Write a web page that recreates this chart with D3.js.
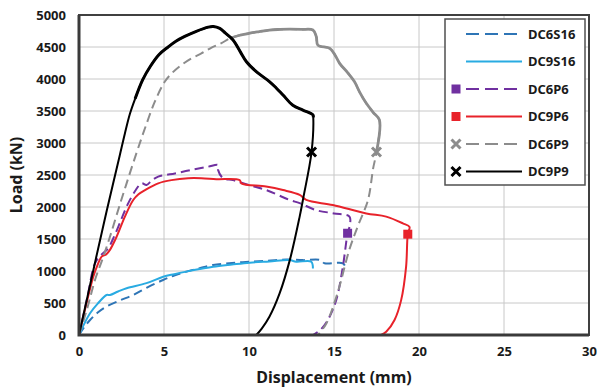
<!DOCTYPE html>
<html>
<head>
<meta charset="utf-8">
<script src="https://cdn.jsdelivr.net/npm/d3@7"></script>
<style>
body { margin: 0; background: #fff; }
text { font-family: "Noto Sans", "Open Sans", sans-serif; font-weight: bold; fill: #1a1a1a; }
</style>
</head>
<body>
<div id="chart"></div>
<script>
const W = 597
const H = 388
const margin = {top: 15, right: 8, bottom: 53, left: 79}

const xTicks = [0, 5, 10, 15, 20, 25, 30]
const yTicks = [0, 500, 1000, 1500, 2000, 2500, 3000, 3500, 4000, 4500, 5000]

// [displacement mm, load kN]
const DC6S16 = [[0,0],[0.3,120],[0.65,235],[1.1,350],[1.62,445],[2.4,540],[3.19,625],[4.0,740],[4.95,860],[5.6,930],[6.32,990],[7.1,1045],[7.89,1095],[9.0,1125],[10.04,1145],[11.1,1160],[12.2,1180],[13.17,1170],[14.2,1170],[14.45,1120],[15.52,1120],[15.72,1040]]
const DC9S16 = [[0,0],[0.3,170],[0.65,340],[1.1,490],[1.62,625],[1.82,625],[2.3,680],[2.8,730],[3.97,810],[4.95,910],[5.6,950],[6.32,990],[7.1,1030],[7.89,1065],[9.0,1100],[10.04,1130],[11.2,1150],[12.39,1170],[12.78,1145],[13.66,1145],[13.76,1040]]
const DC6P6 = [[0,0],[0.5,600],[0.94,1120],[1.3,1250],[1.72,1355],[2.0,1500],[2.31,1690],[2.6,1880],[2.9,2060],[3.3,2250],[3.68,2370],[3.97,2345],[4.3,2420],[4.66,2475],[5.1,2500],[5.64,2525],[6.62,2580],[7.6,2630],[8.18,2655],[8.18,2580],[8.47,2450],[9.05,2420],[9.65,2370],[11.0,2265],[12.39,2110],[12.98,2060],[13.96,1950],[15.0,1900],[15.91,1850],[15.91,1690],[15.8,1590],[15.52,1065],[15.13,545],[14.64,235],[14.2,80],[13.76,0]]
const DC9P6 = [[0,0],[0.4,450],[0.84,910],[1.1,1100],[1.33,1225],[1.6,1260],[1.82,1330],[2.21,1535],[2.7,1850],[3.19,2110],[3.5,2200],[3.88,2265],[4.66,2370],[5.44,2420],[6.42,2450],[7.2,2450],[8.08,2435],[9.45,2420],[9.55,2370],[11.0,2320],[12.0,2265],[12.98,2190],[13.37,2110],[14.93,2030],[16.9,1900],[18.07,1850],[19.05,1745],[19.44,1690],[19.34,1575],[19.24,1065],[18.95,545],[18.56,235],[18.07,50],[17.77,0]]
const DC6P9 = [[0,0],[0.5,430],[0.94,860],[1.4,1200],[1.82,1535],[2.3,1950],[2.8,2370],[3.39,2850],[3.88,3230],[4.46,3645],[5.05,3960],[5.5,4100],[6.03,4220],[6.6,4320],[7.2,4400],[7.8,4490],[8.38,4560],[8.87,4635],[9.4,4680],[10.04,4715],[10.6,4740],[11.2,4765],[11.8,4775],[12.39,4780],[13.1,4775],[13.76,4765],[13.96,4660],[14.05,4530],[14.74,4480],[15.0,4400],[15.33,4245],[15.8,4100],[16.2,3960],[16.5,3800],[16.9,3620],[17.3,3480],[17.67,3360],[17.5,2860],[17.3,2600],[17.0,2110],[16.4,1700],[15.9,1330],[15.2,650],[14.55,180],[14.05,0]]
const DC9P9 = [[0,0],[0.5,600],[1,1200],[1.5,1790],[2,2360],[2.4,2810],[2.7,3150],[3.0,3460],[3.3,3690],[3.75,3990],[4.2,4200],[4.7,4380],[5.24,4500],[5.7,4590],[6.22,4665],[6.9,4745],[7.6,4810],[7.9,4820],[8.28,4790],[8.6,4720],[9.06,4610],[9.5,4420],[9.85,4270],[10.43,4115],[11.2,3960],[11.6,3860],[12.0,3750],[12.58,3590],[13.17,3515],[13.76,3440],[13.78,3400],[13.68,2860],[13.2,2150],[12.98,1850],[12.4,1170],[11.8,650],[11.2,285],[10.75,100],[10.43,0]]

// failure points
const failPoints = [
    {name: "DC6P6", x: 15.8, y: 1590},
    {name: "DC9P6", x: 19.34, y: 1575},
    {name: "DC6P9", x: 17.5, y: 2860},
    {name: "DC9P9", x: 13.68, y: 2860}
]

const series = [
    {name: "DC6S16", data: DC6S16, color: "#2e75b6", dash: "9,5", marker: null},
    {name: "DC9S16", data: DC9S16, color: "#29abe2", dash: null, marker: null},
    {name: "DC6P6", data: DC6P6, color: "#7030a0", dash: "9,5", marker: "square"},
    {name: "DC9P6", data: DC9P6, color: "#e8222a", dash: null, marker: "square"},
    {name: "DC6P9", data: DC6P9, color: "#8c8c8c", dash: "9,5", marker: "cross"},
    {name: "DC9P9", data: DC9P9, color: "#000000", dash: null, marker: "cross"}
]

// noisy (thick) stretches of the two big curves, as index ranges
const heavy = {
    "DC6P9": [[17, 37, 2.8]],
    "DC9P9": [[8, 30, 3]]
}

const svg = d3.select("#chart").append("svg")
    .attr("width", W)
    .attr("height", H)

const x = d3.scaleLinear().domain([0, 30]).range([margin.left, W - margin.right])
const y = d3.scaleLinear().domain([0, 5000]).range([H - margin.bottom, margin.top])

// grid
svg.append("g").selectAll("line")
    .data(yTicks)
    .enter().append("line")
    .attr("x1", x(0)).attr("x2", x(30))
    .attr("y1", d => y(d)).attr("y2", d => y(d))
    .attr("stroke", "#c8c8c8").attr("stroke-width", 1)
svg.append("g").selectAll("line")
    .data(xTicks)
    .enter().append("line")
    .attr("x1", d => x(d)).attr("x2", d => x(d))
    .attr("y1", y(0)).attr("y2", y(5000))
    .attr("stroke", "#c8c8c8").attr("stroke-width", 1)

// axes
const xAxis = svg.append("g")
    .attr("transform", "translate(0," + y(0) + ")")
    .call(d3.axisBottom(x).tickValues(xTicks).tickFormat(d3.format("d")).tickSize(0).tickPadding(12))
const yAxis = svg.append("g")
    .attr("transform", "translate(" + x(0) + ",0)")
    .call(d3.axisLeft(y).tickValues(yTicks).tickFormat(d3.format("d")).tickSize(0).tickPadding(13))
xAxis.select(".domain").remove()
yAxis.select(".domain").remove()
svg.selectAll(".tick text")
    .attr("font-size", 13)
    .attr("font-family", "Noto Sans")
    .attr("font-weight", "bold")
    .attr("fill", "#1a1a1a")

const line = d3.line()
    .x(d => x(d[0]))
    .y(d => y(d[1]))
    .curve(d3.curveCatmullRom.alpha(0.5))

const plot = svg.append("g")
series.forEach(s => {
    plot.append("path")
        .attr("d", line(s.data))
        .attr("fill", "none")
        .attr("stroke", s.color)
        .attr("stroke-width", 2)
        .attr("stroke-linejoin", "round")
        .attr("stroke-dasharray", s.dash)
    ;(heavy[s.name] || []).forEach(r => {
        plot.append("path")
            .attr("d", line(s.data.slice(r[0], r[1] + 1)))
            .attr("fill", "none")
            .attr("stroke", s.color)
            .attr("stroke-width", r[2])
            .attr("stroke-linejoin", "round")
    })
})

function drawMarker(g, type, cx, cy, color) {
    if (type == "square") {
        g.append("rect")
            .attr("x", cx - 4.5).attr("y", cy - 4.5)
            .attr("width", 9).attr("height", 9)
            .attr("fill", color)
    } else if (type == "cross") {
        const r = 4.5
        g.append("path")
            .attr("d", `M${cx - r},${cy - r}L${cx + r},${cy + r}M${cx - r},${cy + r}L${cx + r},${cy - r}`)
            .attr("stroke", color)
            .attr("stroke-width", 3)
    }
}

failPoints.forEach(p => {
    const s = series.find(d => d.name == p.name)
    drawMarker(plot, s.marker, x(p.x), y(p.y), s.color)
})

// frame
svg.append("rect")
    .attr("x", x(0)).attr("y", y(5000))
    .attr("width", x(30) - x(0)).attr("height", y(0) - y(5000))
    .attr("fill", "none").attr("stroke", "#404040").attr("stroke-width", 2)
svg.append("path")
    .attr("d", `M${x(0)},${y(5000)}V${y(0)}H${x(30)}`)
    .attr("fill", "none").attr("stroke", "#3a3a3a").attr("stroke-width", 3)

// axis titles
svg.append("text")
    .attr("x", (x(0) + x(30)) / 2)
    .attr("y", 383)
    .attr("text-anchor", "middle")
    .attr("font-size", 16)
    .text("Displacement (mm)")
svg.append("text")
    .attr("transform", "translate(22," + (y(2500)) + ") rotate(-90)")
    .attr("text-anchor", "middle")
    .attr("font-size", 16)
    .text("Load (kN)")

// legend
const lg = svg.append("g").attr("transform", "translate(445,19)")
lg.append("rect")
    .attr("width", 140).attr("height", 166)
    .attr("fill", "#fff").attr("stroke", "#505050").attr("stroke-width", 1.5)
series.forEach((s, i) => {
    const cy = 15 + i * 27.5
    lg.append("line")
        .attr("x1", 21).attr("x2", 77)
        .attr("y1", cy).attr("y2", cy)
        .attr("stroke", s.color).attr("stroke-width", 2)
        .attr("stroke-dasharray", s.dash ? "13,6" : null)
    if (s.marker) drawMarker(lg, s.marker, 11, cy, s.color)
    lg.append("text")
        .attr("x", 83).attr("y", cy + 4.5)
        .attr("font-size", 13)
        .text(s.name)
})
</script>
</body>
</html>
